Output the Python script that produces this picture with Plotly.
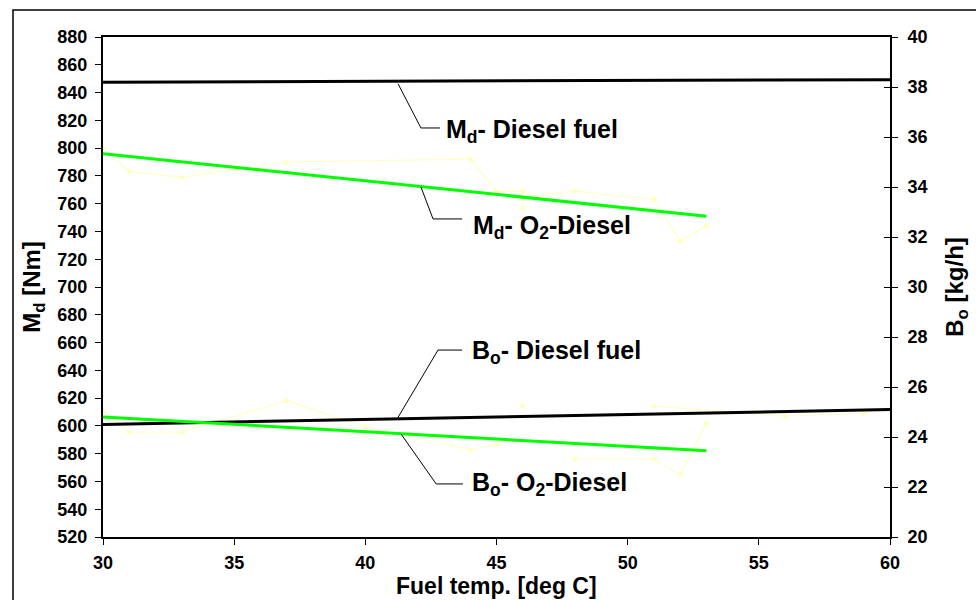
import plotly.graph_objects as go

# ---- data ----
temp_trend_full = [30, 60]
md_diesel_trend = [847.5, 849.3]
bo_diesel_trend = [24.5, 25.1]

temp_trend_o2 = [30, 53]
md_o2_trend = [796, 751]
bo_o2_trend = [24.8, 23.45]

md_raw_temp = [30, 31, 33, 37, 44, 45, 46, 46, 46, 48, 51, 52, 53]
md_raw_val = [800, 783, 779, 790, 792, 769, 769, 757, 765, 769, 763, 733, 744]

bo_raw_temp = [30, 31, 33, 37, 40, 44, 45, None, 46, None, 48, 51, 52, 53, None, 51, 56, 59, 60]
bo_raw_val = [25.04, 24.19, 24.19, 25.45, 24.41, 23.48, 23.68, None, 25.25, None, 23.12, 23.12, 22.5, 24.55, None, 25.24, 24.84, 24.95, 25.12]

x_ticks = [30, 35, 40, 45, 50, 55, 60]
y_ticks = list(range(520, 881, 20))
y2_ticks = list(range(20, 41, 2))

FONT = "Arial, Liberation Sans, sans-serif"
RAW_COLOR = "#ffffc4"
GREEN = "#00ff00"

fig = go.Figure()

fig.add_trace(go.Scatter(x=md_raw_temp, y=md_raw_val, mode="lines+markers",
                         line=dict(color=RAW_COLOR, width=1.2),
                         marker=dict(color=RAW_COLOR, size=5, symbol="diamond"),
                         yaxis="y", showlegend=False))
fig.add_trace(go.Scatter(x=temp_trend_full, y=md_diesel_trend, mode="lines",
                         line=dict(color="black", width=3), yaxis="y", showlegend=False))
fig.add_trace(go.Scatter(x=temp_trend_o2, y=md_o2_trend, mode="lines",
                         line=dict(color=GREEN, width=3), yaxis="y", showlegend=False))

fig.add_trace(go.Scatter(x=bo_raw_temp, y=bo_raw_val, mode="lines+markers",
                         line=dict(color=RAW_COLOR, width=1.2),
                         marker=dict(color=RAW_COLOR, size=5, symbol="diamond"),
                         connectgaps=False, yaxis="y2", showlegend=False))
fig.add_trace(go.Scatter(x=temp_trend_full, y=bo_diesel_trend, mode="lines",
                         line=dict(color="black", width=3), yaxis="y2", showlegend=False))
fig.add_trace(go.Scatter(x=temp_trend_o2, y=bo_o2_trend, mode="lines",
                         line=dict(color=GREEN, width=3), yaxis="y2", showlegend=False))
# empty trace for inner-tick helper axis
fig.add_trace(go.Scatter(x=[None], y=[None], yaxis="y3", showlegend=False, hoverinfo="skip"))

tickfont = dict(family=FONT, size=18, color="black", weight="bold")
titlefont = dict(family=FONT, size=24, color="black", weight="bold")

fig.update_layout(
    width=976, height=600,
    margin=dict(l=103, r=86, t=37, b=63),
    paper_bgcolor="white", plot_bgcolor="white",
    font=dict(family=FONT, color="black"),
    xaxis=dict(range=[30, 60], tickvals=x_ticks, ticks="outside", ticklen=6, tickwidth=1.2,
               tickcolor="black", showline=True, linecolor="black", linewidth=2,
               mirror=True, showgrid=False, zeroline=False, tickfont=tickfont,
               ticklabelstandoff=2, automargin=False),
    yaxis=dict(range=[520, 880], tickvals=y_ticks, ticks="outside", ticklen=6, tickwidth=1.2,
               tickcolor="black", showline=True, linecolor="black", linewidth=2,
               mirror=True, showgrid=False, zeroline=False, tickfont=tickfont,
               ticklabelstandoff=4, automargin=False,
               title=dict(text="M<sub>d</sub> [Nm]", font=titlefont, standoff=10)),
    yaxis2=dict(range=[20, 40], tickvals=y2_ticks, ticks="outside", ticklen=6, tickwidth=1.2,
                tickcolor="black", showline=True, linecolor="black", linewidth=2,
                overlaying="y", side="right", showgrid=False, zeroline=False,
                tickfont=tickfont, ticklabelstandoff=6, automargin=False,
                title=dict(text="B<sub>o</sub> [kg/h]", font=titlefont, standoff=20)),
    yaxis3=dict(range=[20, 40], tickvals=y2_ticks, ticks="inside", ticklen=6, tickwidth=1.2,
                tickcolor="black", showline=False, overlaying="y", side="right",
                showgrid=False, zeroline=False, showticklabels=False, automargin=False),
)

# x-axis title
fig.add_annotation(text="Fuel temp. [deg C]", x=0.5, y=(537 - 586) / 500, xref="paper",
                   yref="paper", xanchor="center", yanchor="middle", showarrow=False,
                   font=dict(family=FONT, size=23, color="black", weight="bold"))

ann_font = dict(family=FONT, size=25, color="black", weight="bold")
labels = [
    ("M<sub>d</sub>- Diesel fuel", 43.0, 812),
    ("M<sub>d</sub>- O<sub>2</sub>-Diesel", 44.03, 743),
    ("B<sub>o</sub>- Diesel fuel", 44.0, 653),
    ("B<sub>o</sub>- O<sub>2</sub>-Diesel", 44.0, 558),
]
for text, xx, yy in labels:
    fig.add_annotation(text=text, x=xx, y=yy, xref="x", yref="y", xanchor="left",
                       yanchor="middle", showarrow=False, font=ann_font)

leaders = [
    [(41.25, 846.2), (42.12, 814.5), (42.85, 814.5)],
    [(42.12, 772), (42.58, 749), (43.69, 749)],
    [(41.21, 605), (42.77, 654.6), (43.69, 654.6)],
    [(41.36, 594.2), (42.7, 558.2), (43.72, 558.2)],
]
for pts in leaders:
    path = "M " + " L ".join(f"{px},{py}" for px, py in pts)
    fig.add_shape(type="path", path=path, xref="x", yref="y",
                  line=dict(color="black", width=1))

# outer chart border (partly outside the visible page)
fig.add_shape(type="rect", xref="paper", yref="paper",
              x0=(13 - 103) / 787, x1=1.3, y0=-0.3, y1=1 + 27 / 500,
              line=dict(color="black", width=1.5), fillcolor="rgba(0,0,0,0)", layer="below")

fig.write_html("out.html")
